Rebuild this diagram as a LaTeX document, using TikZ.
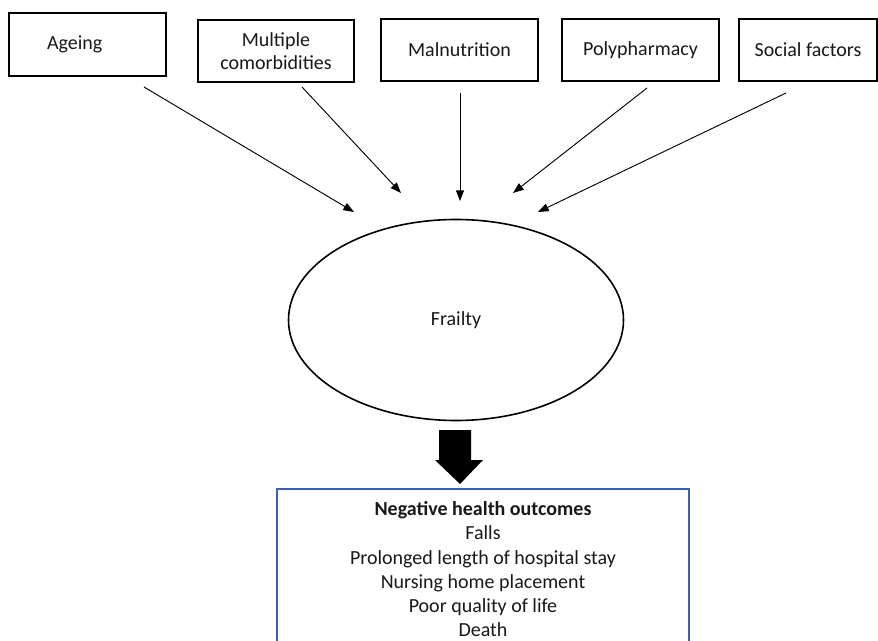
\documentclass[tikz,border=0pt]{standalone}
\usepackage{fontspec}
\setmainfont{Carlito}
\usetikzlibrary{arrows.meta,shapes.geometric}
\definecolor{boxblue}{RGB}{62,96,168}
\definecolor{txt}{RGB}{25,25,25}
\begin{document}
\begin{tikzpicture}[x=0.75pt,y=-0.75pt,
  topbox/.style={draw=black,line width=1.1pt,rectangle,minimum height=46.5pt,inner sep=0pt,align=center,text=txt,font=\fontsize{15}{17.25}\selectfont},
  feed/.style={draw=black,line width=0.7pt,-{Triangle[length=8pt,width=6pt]}},
  ]
\clip (0,0) rectangle (878,641);
\fill[white] (0,0) rectangle (878,641);
% top boxes
\node[topbox,minimum width=117.75pt,minimum height=47.25pt,text width=60.75pt,inner xsep=28.5pt,align=left] (age) at (87.5,44.5) {Ageing};
\node[topbox,minimum width=117pt] (mult) at (276,51) {Multiple\\comorbidities};
\node[topbox,minimum width=117.75pt] (maln) at (459.5,50) {Malnutrition};
\node[topbox,minimum width=117.75pt] (poly) at (640.5,50) {Polypharmacy};
\node[topbox,minimum width=103.5pt] (soc) at (808,50) {Social factors};
% frailty
\node[draw=black,line width=1.2pt,ellipse,minimum width=251.25pt,minimum height=150.75pt,inner sep=0pt,text=txt,font=\fontsize{15}{18}\selectfont] (frail) at (456,320) {Frailty};
% arrow endpoints
\coordinate (s1) at (144,87);  \coordinate (e1) at (354,212);
\coordinate (s2) at (302,87);  \coordinate (e2) at (401,193);
\coordinate (s3) at (460,93);  \coordinate (e3) at (460,201);
\coordinate (s4) at (647,88);  \coordinate (e4) at (513,193);
\coordinate (s5) at (786,93);  \coordinate (e5) at (538,212);
\draw[feed] (s1) -- (e1);
\draw[feed] (s2) -- (e2);
\draw[feed] (s3) -- (e3);
\draw[feed] (s4) -- (e4);
\draw[feed] (s5) -- (e5);
% big block arrow
\fill[black] (439,430) -- (471,430) -- (471,460) -- (483,460) -- (460,484) -- (435,460) -- (439,460) -- cycle;
% outcomes box
\node[draw=boxblue,line width=1.3pt,rectangle,anchor=north,minimum width=309pt,inner ysep=9.5pt,align=center,text=txt,font=\fontsize{15}{18.2}\selectfont] (out) at (483,488)
{\textbf{Negative health outcomes}\\Falls\\Prolonged length of hospital stay\\Nursing home placement\\Poor quality of life\\Death};
\end{tikzpicture}
\end{document}
